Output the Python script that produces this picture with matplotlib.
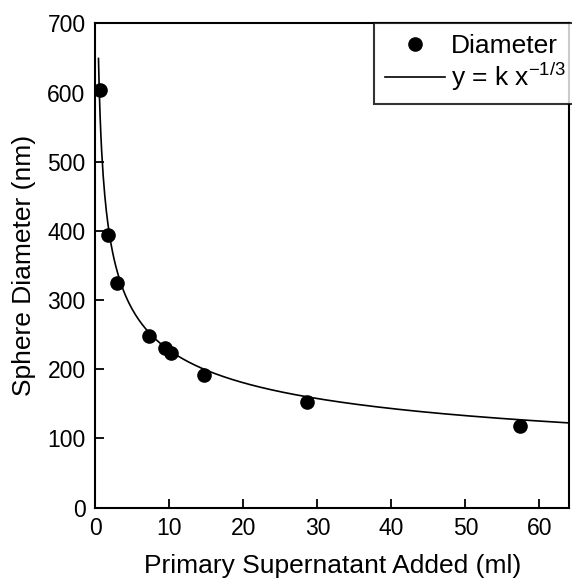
import matplotlib
matplotlib.use("Agg")
import matplotlib.pyplot as plt
import numpy as np

plt.rcParams['font.family'] = ['Liberation Sans', 'DejaVu Sans']

# volume added (ml) and measured sphere diameter (nm)
volume = [0.6, 1.65, 2.9, 7.3, 9.4, 10.2, 14.7, 28.6, 57.4]
diameter = [603, 394, 325, 248, 231, 224, 192, 153, 118]

# fitted curve y = k x^(-1/3)
k = 490
x_fit = np.linspace(0.43, 64, 600)
y_fit = k * x_fit ** (-1.0 / 3)

fig = plt.figure(figsize=(5.72, 5.8), dpi=100)
ax = fig.add_axes([0.1666, 0.1247, 0.8282, 0.8351])

ax.plot(volume, diameter, 'o', color='black', markersize=9.5, label='Diameter', zorder=3)
ax.plot(x_fit, y_fit, '-', color='black', linewidth=1.2, label=r'y = k x$^{\mathregular{-1/3}}$')

ax.set_xlim(0, 64)
ax.set_ylim(0, 700)
ax.set_xticks(range(0, 61, 10))
ax.set_yticks(range(0, 701, 100))

for s in ['top', 'right', 'left', 'bottom']:
    ax.spines[s].set_linewidth(1.5)

ax.tick_params(direction='in', length=6.5, width=1.3, labelsize=16.5, pad=7)
ax.set_xlabel('Primary Supernatant Added (ml)', fontsize=19, labelpad=10)
ax.set_ylabel('Sphere Diameter (nm)', fontsize=19, labelpad=8)

leg = ax.legend(loc='upper right', bbox_to_anchor=(1.015, 1.0), borderaxespad=0,
                fancybox=False, frameon=True, fontsize=19, handlelength=2.3,
                handletextpad=0.2, labelspacing=0.1, borderpad=0.4)
leg.get_frame().set_edgecolor('black')
leg.get_frame().set_linewidth(1.5)

fig.savefig('out.png', dpi=100)
